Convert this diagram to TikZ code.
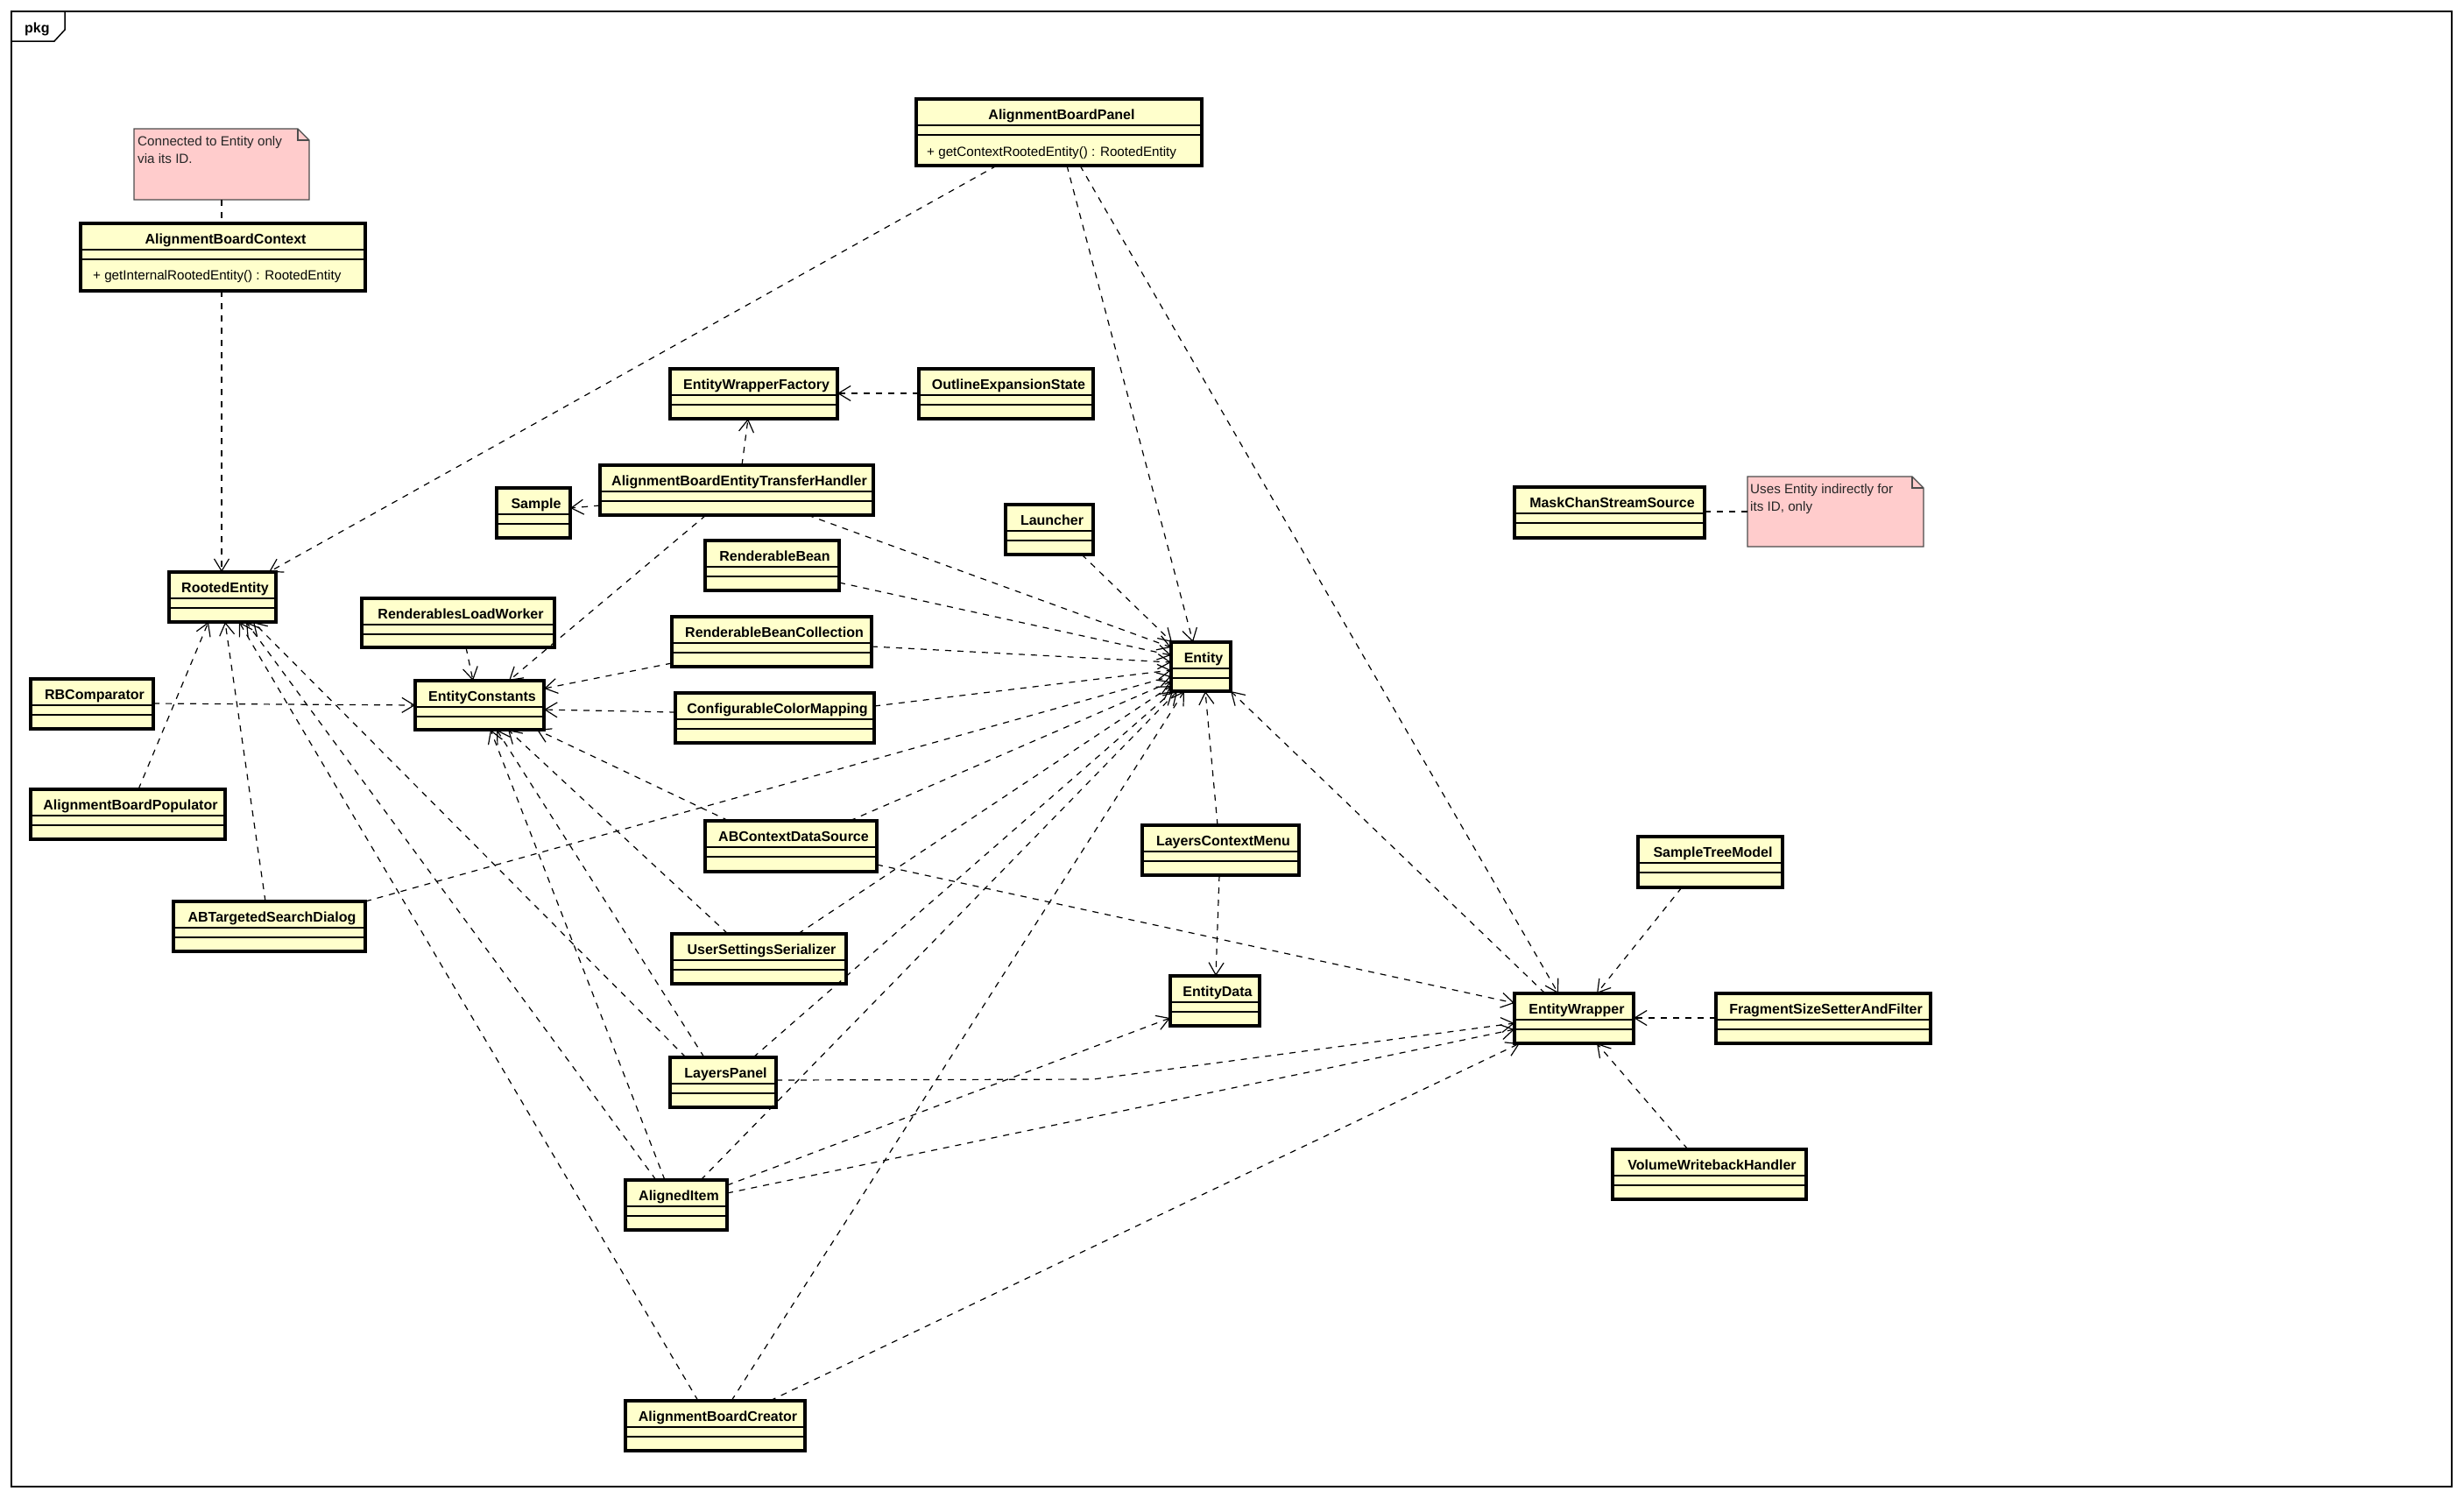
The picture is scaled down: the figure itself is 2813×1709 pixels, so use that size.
\documentclass[tikz,border=0pt]{standalone}
\usepackage{fontspec}
\setmainfont{Liberation Sans}
\usetikzlibrary{arrows.meta}
\definecolor{clsfill}{RGB}{255,255,204}
\definecolor{notefill}{RGB}{255,204,204}

\tikzset{
  cls/.style={rectangle, draw=black, line width=3.2pt, fill=clsfill, inner sep=0pt, outer sep=0pt},
  sepline/.style={line width=1.3pt, draw=black},
  clsname/.style={font=\fontsize{16}{19}\selectfont\bfseries, anchor=base, inner sep=0pt},
  optext/.style={font=\fontsize{15.2}{18}\selectfont, anchor=base west, inner sep=0pt},
  notetext/.style={font=\fontsize{15.2}{18}\selectfont, anchor=base west, inner sep=0pt, text=black!85},
  notebox/.style={rectangle, inner sep=0pt, outer sep=0pt},
  dep/.style={line width=1.2pt, dash pattern=on 7pt off 7pt, -{Straight Barb[length=14pt,width=17pt]}},
  notelink/.style={line width=1.2pt, dash pattern=on 7pt off 7pt},
}

% class box: name, x1, y1, x2, y2, title
\newcommand\umlclass[6]{%
  \node[cls, minimum width={#4-#2}, minimum height={#5-#3}] (#1) at ({(#2+#4)/2},{(#3+#5)/2}) {};
  \draw[sepline] ([shift={(0,30)}]#1.north west) -- ([shift={(0,30)}]#1.north east);
  \draw[sepline] ([shift={(0,41)}]#1.north west) -- ([shift={(0,41)}]#1.north east);
  \node[clsname] (#1-t) at ([shift={(3,23)}]#1.north) {#6};
}

% note with folded corner: name, x1, y1, x2, y2
\newcommand\umlnote[5]{%
  \node[notebox, minimum width={#4-#2}, minimum height={#5-#3}] (#1) at ({(#2+#4)/2},{(#3+#5)/2}) {};
  \filldraw[fill=notefill, draw=black!70, line width=1.2pt]
    (#1.north west) -- ([shift={(-13,0)}]#1.north east) -- ([shift={(0,13)}]#1.north east)
    -- (#1.south east) -- (#1.south west) -- cycle;
  \draw[draw=black!70, line width=1.2pt]
    ([shift={(-13,0)}]#1.north east) -- ([shift={(-13,13)}]#1.north east) -- ([shift={(0,13)}]#1.north east);
}

\begin{document}
\begin{tikzpicture}[x=1pt,y=-1pt]
\useasboundingbox (0,0) rectangle (2813,1709);

% package frame
\node[draw=black, line width=1.5pt, minimum width=2786, minimum height=1684, inner sep=0pt, outer sep=0pt] (frame) at (1406,855) {};
\draw[line width=1.5pt] ([shift={(0,34)}]frame.north west) -- ([shift={(49,34)}]frame.north west)
  -- ([shift={(61,21)}]frame.north west) -- ([shift={(61,0)}]frame.north west);
\node[font=\fontsize{16}{19}\selectfont\bfseries, anchor=base west, inner sep=0pt] (pkglabel) at ([shift={(15,24)}]frame.north west) {pkg};

% notes
\umlnote{NoteA}{153}{147}{353}{228}
\node[notetext] (NoteA-l1) at ([shift={(4,19)}]NoteA.north west) {Connected to Entity only};
\node[notetext] (NoteA-l2) at ([shift={(4,39)}]NoteA.north west) {via its ID.};
\umlnote{NoteB}{1995}{544}{2196}{624}
\node[notetext] (NoteB-l1) at ([shift={(3,19)}]NoteB.north west) {Uses Entity indirectly for};
\node[notetext] (NoteB-l2) at ([shift={(3,39)}]NoteB.north west) {its ID, only};

% classes
\umlclass{ABContext}{92}{255}{417}{332}{AlignmentBoardContext}
\node[optext] (ABContext-op) at ([shift={(14,64)}]ABContext.north west) {+ getInternalRootedEntity() : RootedEntity};
\umlclass{ABPanel}{1046}{113}{1372}{189}{AlignmentBoardPanel}
\node[optext] (ABPanel-op) at ([shift={(12,65)}]ABPanel.north west) {+ getContextRootedEntity() : RootedEntity};
\umlclass{EWFactory}{765}{421}{956}{478}{EntityWrapperFactory}
\umlclass{OutlineState}{1049}{421}{1248}{478}{OutlineExpansionState}
\umlclass{TransferHandler}{685}{531}{997}{588}{AlignmentBoardEntityTransferHandler}
\umlclass{Sample}{567}{557}{651}{614}{Sample}
\umlclass{Launcher}{1148}{576}{1248}{633}{Launcher}
\umlclass{RBean}{805}{617}{958}{674}{RenderableBean}
\umlclass{RootedEntity}{193}{653}{315}{710}{RootedEntity}
\umlclass{LoadWorker}{413}{683}{633}{739}{RenderablesLoadWorker}
\umlclass{RBCollection}{767}{704}{995}{761}{RenderableBeanCollection}
\umlclass{Entity}{1337}{733}{1405}{789}{Entity}
\umlclass{RBComparator}{35}{775}{175}{832}{RBComparator}
\umlclass{EConstants}{474}{777}{621}{833}{EntityConstants}
\umlclass{ColorMapping}{771}{791}{998}{848}{ConfigurableColorMapping}
\umlclass{Populator}{35}{901}{257}{958}{AlignmentBoardPopulator}
\umlclass{SearchDialog}{198}{1029}{417}{1086}{ABTargetedSearchDialog}
\umlclass{DataSource}{805}{937}{1001}{995}{ABContextDataSource}
\umlclass{LCMenu}{1304}{942}{1483}{999}{LayersContextMenu}
\umlclass{TreeModel}{1870}{955}{2035}{1013}{SampleTreeModel}
\umlclass{MaskSource}{1729}{556}{1946}{614}{MaskChanStreamSource}
\umlclass{Serializer}{767}{1066}{966}{1123}{UserSettingsSerializer}
\umlclass{EntityData}{1336}{1114}{1438}{1171}{EntityData}
\umlclass{EWrapper}{1729}{1134}{1865}{1191}{EntityWrapper}
\umlclass{SizeFilter}{1959}{1134}{2204}{1191}{FragmentSizeSetterAndFilter}
\umlclass{LPanel}{765}{1207}{886}{1264}{LayersPanel}
\umlclass{Writeback}{1841}{1312}{2062}{1369}{VolumeWritebackHandler}
\umlclass{AItem}{714}{1347}{830}{1404}{AlignedItem}
\umlclass{Creator}{714}{1599}{919}{1656}{AlignmentBoardCreator}

% note attachments
\draw[notelink] ([shift={(100,81)}]NoteA.north west) -- ([shift={(161,0)}]ABContext.north west);
\draw[notelink] ([shift={(217,28)}]MaskSource.north west) -- ([shift={(0,40)}]NoteB.north west);

% dependencies
\draw[dep] ([shift={(161,77)}]ABContext.north west) -- ([shift={(60,0)}]RootedEntity.north west);
\draw[dep] ([shift={(92,76)}]ABPanel.north west) -- ([shift={(114,0)}]RootedEntity.north west);
\draw[dep] ([shift={(172,76)}]ABPanel.north west) -- ([shift={(25,0)}]Entity.north west);
\draw[dep] ([shift={(187,76)}]ABPanel.north west) -- ([shift={(50,0)}]EWrapper.north west);
\draw[dep] ([shift={(0,28)}]OutlineState.north west) -- ([shift={(191,28)}]EWFactory.north west);
\draw[dep] ([shift={(162,0)}]TransferHandler.north west) -- ([shift={(89,57)}]EWFactory.north west);
\draw[dep] ([shift={(0,46)}]TransferHandler.north west) -- ([shift={(84,23)}]Sample.north west);
\draw[dep] ([shift={(121,57)}]TransferHandler.north west) -- ([shift={(107,0)}]EConstants.north west);
\draw[dep] ([shift={(237,57)}]TransferHandler.north west) -- ([shift={(0,6)}]Entity.north west);
\draw[dep] ([shift={(119,56)}]LoadWorker.north west) -- ([shift={(66,0)}]EConstants.north west);
\draw[dep] ([shift={(140,28)}]RBComparator.north west) -- ([shift={(0,28)}]EConstants.north west);
\draw[dep] ([shift={(123,0)}]Populator.north west) -- ([shift={(45,57)}]RootedEntity.north west);
\draw[dep] ([shift={(105,0)}]SearchDialog.north west) -- ([shift={(64,57)}]RootedEntity.north west);
\draw[dep] ([shift={(219,0)}]SearchDialog.north west) -- ([shift={(0,39)}]Entity.north west);
\draw[dep] ([shift={(0,53)}]RBCollection.north west) -- ([shift={(147,9)}]EConstants.north west);
\draw[dep] ([shift={(0,22)}]ColorMapping.north west) -- ([shift={(147,33)}]EConstants.north west);
\draw[dep] ([shift={(153,48)}]RBean.north west) -- ([shift={(0,15)}]Entity.north west);
\draw[dep] ([shift={(228,34)}]RBCollection.north west) -- ([shift={(0,23)}]Entity.north west);
\draw[dep] ([shift={(227,15)}]ColorMapping.north west) -- ([shift={(0,32)}]Entity.north west);
\draw[dep] ([shift={(87,57)}]Launcher.north west) -- ([shift={(1,0)}]Entity.north west);
\draw[dep] ([shift={(27,0)}]DataSource.north west) -- ([shift={(139,56)}]EConstants.north west);
\draw[dep] ([shift={(165,0)}]DataSource.north west) -- ([shift={(0,45)}]Entity.north west);
\draw[dep] ([shift={(196,50)}]DataSource.north west) -- ([shift={(0,11)}]EWrapper.north west);
\draw[dep] ([shift={(64,0)}]Serializer.north west) -- ([shift={(106,56)}]EConstants.north west);
\draw[dep] ([shift={(144,0)}]Serializer.north west) -- ([shift={(0,50)}]Entity.north west);
\draw[dep] ([shift={(18,0)}]LPanel.north west) -- ([shift={(96,57)}]RootedEntity.north west);
\draw[dep] ([shift={(39,0)}]LPanel.north west) -- ([shift={(93,56)}]EConstants.north west);
\draw[dep] ([shift={(95,0)}]LPanel.north west) -- ([shift={(2,56)}]Entity.north west);
\coordinate (lpbend) at (1248,1232);
\draw[dep] ([shift={(121,26)}]LPanel.north west) -- (lpbend) -- ([shift={(0,34)}]EWrapper.north west);
\draw[dep] ([shift={(86,0)}]LCMenu.north west) -- ([shift={(39,56)}]Entity.north west);
\draw[dep] ([shift={(88,57)}]LCMenu.north west) -- ([shift={(52,0)}]EntityData.north west);
\draw[dep] ([shift={(35,0)}]EWrapper.north west) -- ([shift={(68,56)}]Entity.north west);
\draw[dep] ([shift={(35,0)}]AItem.north west) -- ([shift={(88,57)}]RootedEntity.north west);
\draw[dep] ([shift={(45,0)}]AItem.north west) -- ([shift={(86,56)}]EConstants.north west);
\draw[dep] ([shift={(86,0)}]AItem.north west) -- ([shift={(7,56)}]Entity.north west);
\draw[dep] ([shift={(116,6)}]AItem.north west) -- ([shift={(0,48)}]EntityData.north west);
\draw[dep] ([shift={(116,15)}]AItem.north west) -- ([shift={(0,41)}]EWrapper.north west);
\draw[dep] ([shift={(83,0)}]Creator.north west) -- ([shift={(80,57)}]RootedEntity.north west);
\draw[dep] ([shift={(121,0)}]Creator.north west) -- ([shift={(15,56)}]Entity.north west);
\draw[dep] ([shift={(165,0)}]Creator.north west) -- ([shift={(6,57)}]EWrapper.north west);
\draw[dep] ([shift={(50,58)}]TreeModel.north west) -- ([shift={(94,0)}]EWrapper.north west);
\draw[dep] ([shift={(0,28)}]SizeFilter.north west) -- ([shift={(136,28)}]EWrapper.north west);
\draw[dep] ([shift={(86,0)}]Writeback.north west) -- ([shift={(94,57)}]EWrapper.north west);

\end{tikzpicture}
\end{document}
